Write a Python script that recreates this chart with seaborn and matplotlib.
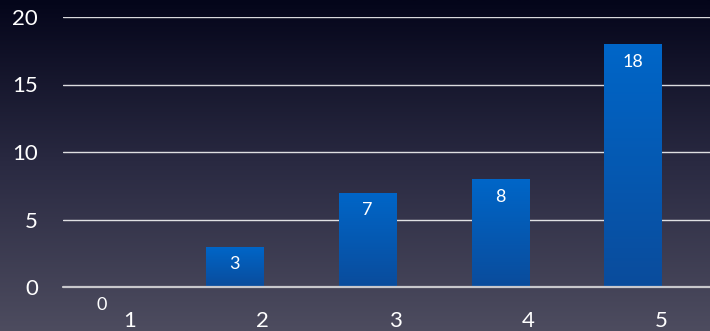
import numpy as np
import pandas as pd
import matplotlib
matplotlib.use("Agg")
import matplotlib.pyplot as plt
import seaborn as sns
from matplotlib.colors import LinearSegmentedColormap

# data
categories = ["1", "2", "3", "4", "5"]
counts = [0, 3, 7, 8, 18]
y_ticks = [0, 5, 10, 15, 20]

df = pd.DataFrame({"category": categories, "count": counts})

sns.set_theme(style="white")
plt.rcParams["font.family"] = ["Lato", "DejaVu Sans"]

fig = plt.figure(figsize=(7.1, 3.31), dpi=100)

# background gradient
bg = fig.add_axes([0, 0, 1, 1], zorder=-10)
bg_cmap = LinearSegmentedColormap.from_list("bg", ["#04051a", "#2a2a42", "#4d4c5f"])
bg.imshow(np.linspace(0, 1, 256).reshape(-1, 1), aspect="auto", cmap=bg_cmap,
          extent=[0, 1, 0, 1])
bg.axis("off")

ax = fig.add_axes([63 / 710, 44 / 331, 647 / 710, 270 / 331])
ax.patch.set_alpha(0)

sns.barplot(data=df, x="category", y="count", color="#0060bf", width=0.43,
            saturation=1, linewidth=0, ax=ax, zorder=3)

# gradient on bars
bar_cmap = LinearSegmentedColormap.from_list("bar", ["#0a4c9c", "#0066c8"])
for p in ax.patches:
    x0, y0 = p.get_x(), p.get_y()
    w, h = p.get_width(), p.get_height()
    if h <= 0:
        continue
    im = ax.imshow(np.linspace(0, 1, 100).reshape(-1, 1), cmap=bar_cmap, origin="lower",
                   aspect="auto", extent=[x0, x0 + w, y0, y0 + h], zorder=4)
    im.set_clip_path(p)

ax.set_xlim(-0.29, 4.58)
ax.set_ylim(0, 20)

for i, v in enumerate(counts):
    ax.text(i, v - 1.3, str(v), ha="center", va="center", color="white",
            fontsize=13, zorder=5, clip_on=False)

ax.set_yticks(y_ticks)
ax.set_yticklabels([str(t) for t in y_ticks])
ax.set_xticks(np.arange(len(categories)) + 0.21)
ax.set_xticklabels(categories)
ax.tick_params(axis="y", length=0, pad=18, labelsize=16, labelcolor="white")
ax.tick_params(axis="x", length=0, pad=17, labelsize=16, labelcolor="white")
ax.set_xlabel("")
ax.set_ylabel("")

for t in y_ticks[1:]:
    ax.axhline(t, color="white", lw=1, alpha=0.85, zorder=1)
ax.axhline(0, color="#c8c8cc", lw=1.6, zorder=6, clip_on=False)

for s in ax.spines.values():
    s.set_visible(False)

fig.savefig("out.png", dpi=100)
